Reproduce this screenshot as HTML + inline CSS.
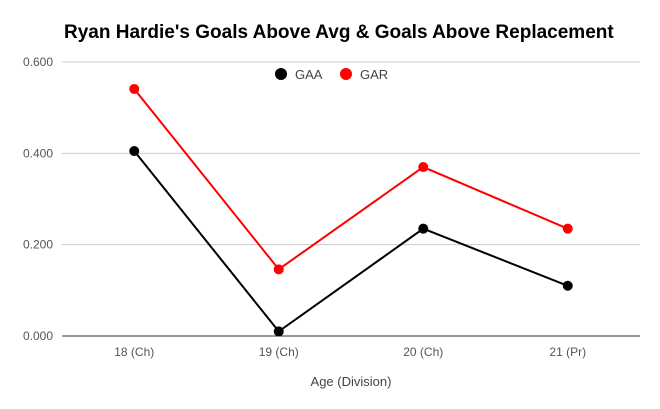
<!DOCTYPE html>
<html><head><meta charset="utf-8"><style>
body{margin:0;background:#fff;}
svg{display:block;font-family:"Liberation Sans",Arial,sans-serif;}
</style></head><body>
<svg id="chart" width="660" height="409">
<text x="64" y="38" font-size="19" font-weight="bold" fill="#000">Ryan Hardie's Goals Above Avg &amp; Goals Above Replacement</text>
<g id="grid"></g><g id="series"></g>
<g>
<g><circle cx="281" cy="74" r="6" fill="#000"/><text x="295" y="79" font-size="13" fill="#444">GAA</text></g>
<g><circle cx="346" cy="74" r="6" fill="#f00"/><text x="360" y="79" font-size="13" fill="#444">GAR</text></g>
</g>
<text x="351" y="386" font-size="13" fill="#444" text-anchor="middle">Age (Division)</text>
</svg>
<script>
const categories=["18 (Ch)","19 (Ch)","20 (Ch)","21 (Pr)"];
const gaaValues=[0.405,0.010,0.235,0.110];
const garValues=[0.541,0.146,0.370,0.235];
const yTicks=[0,0.2,0.4,0.6];
const yTickLabels=["0.000","0.200","0.400","0.600"];
const NS="http://www.w3.org/2000/svg";
const L=62,R=640,T=62,B=336;
const x=i=>L+(R-L)/categories.length*(i+0.5);
const y=v=>B-(v/0.6)*(B-T);
const grid=document.getElementById('grid'),ser=document.getElementById('series');
function mk(tag,attrs,parent){const e=document.createElementNS(NS,tag);for(const k in attrs)e.setAttribute(k,attrs[k]);parent.appendChild(e);return e;}
yTicks.forEach((t,i)=>{
 const ln=mk('line',{x1:L,x2:R,y1:y(t),y2:y(t),stroke:t===0?'#333':'#ccc','stroke-width':1},grid);
 
 
 const tx=mk('text',{x:53,y:y(t)+4,'font-size':12,fill:'#555','text-anchor':'end'},grid);
 tx.textContent=yTickLabels[i];
 
 
});
categories.forEach((c,i)=>{
 const tx=mk('text',{x:x(i),y:356,'font-size':12,fill:'#555','text-anchor':'middle'},grid);
 tx.textContent=c;
 
 
});
function series(vals,color,name){
 const pl=mk('polyline',{points:vals.map((v,i)=>x(i)+','+y(v)).join(' '),fill:'none',stroke:color,'stroke-width':2},ser);
 
 
 vals.forEach((v,i)=>{
  const c=mk('circle',{cx:x(i),cy:y(v),r:5,fill:color},ser);
  
  
 });
}
series(gaaValues,'#000','gaa');
series(garValues,'#f00','gar');
</script>
</body></html>
